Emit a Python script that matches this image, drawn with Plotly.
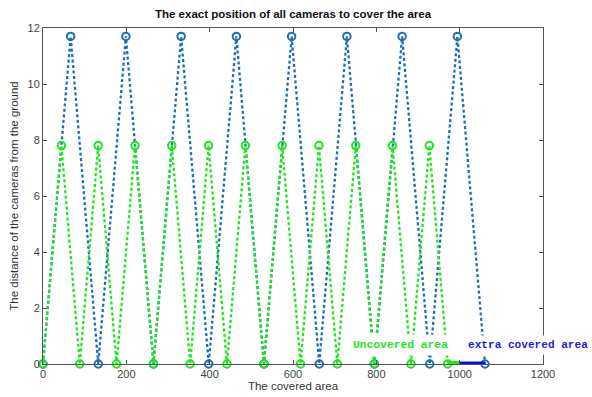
import plotly.graph_objects as go

# Data
blue_x = [0, 66.3, 132.6, 198.9, 265.2, 331.5, 397.8, 464.1, 530.4, 596.7,
          663.0, 729.3, 795.6, 861.9, 928.2, 994.5, 1060.8]
blue_y = [0, 11.7, 0, 11.7, 0, 11.7, 0, 11.7, 0, 11.7, 0, 11.7, 0, 11.7, 0, 11.7, 0]

green_x = [0, 44.15, 88.3, 132.45, 176.6, 220.75, 264.9, 309.05, 353.2, 397.35,
           441.5, 485.65, 529.8, 573.95, 618.1, 662.25, 706.4, 750.55, 794.7,
           838.85, 883.0, 927.15, 971.3]
green_y = [0, 7.8, 0, 7.8, 0, 7.8, 0, 7.8, 0, 7.8, 0, 7.8, 0, 7.8, 0, 7.8, 0,
           7.8, 0, 7.8, 0, 7.8, 0]

uncovered_x = [971.3, 1000]
uncovered_y = [0, 0]
extra_x = [1000, 1060.8]
extra_y = [0, 0]

x_ticks = [0, 200, 400, 600, 800, 1000, 1200]
y_ticks = [0, 2, 4, 6, 8, 10, 12]

title = "The exact position of all cameras to cover the area"
x_label = "The covered area"
y_label = "The distance of the cameras from the ground"
label_uncovered = "Uncovered area"
label_extra = "extra covered area"

BLUE = "#1a6fb8"
GREEN = "#1ee61e"
TXT_BLUE = "#1c1ce0"
MONO = "Liberation Mono, Courier New, monospace"
SANS = "Liberation Sans, Arial, sans-serif"

fig = go.Figure()
fig.add_trace(go.Scatter(
    x=blue_x, y=blue_y, mode="lines+markers",
    line=dict(color=BLUE, width=2.3, dash="3px,2.5px"),
    marker=dict(symbol="circle-open", size=7.5, color=BLUE, line=dict(width=2, color=BLUE)),
    showlegend=False, cliponaxis=False))
fig.add_trace(go.Scatter(
    x=green_x, y=green_y, mode="lines+markers",
    line=dict(color=GREEN, width=2.3, dash="3px,2.5px"),
    marker=dict(symbol="circle-open", size=7.5, color=GREEN, line=dict(width=2, color=GREEN)),
    showlegend=False, cliponaxis=False))
fig.add_trace(go.Scatter(
    x=uncovered_x, y=uncovered_y, mode="lines",
    line=dict(color=GREEN, width=6), showlegend=False, cliponaxis=False))
fig.add_trace(go.Scatter(
    x=extra_x, y=extra_y, mode="lines",
    line=dict(color="#0a0ae6", width=5), showlegend=False, cliponaxis=False))

fig.add_annotation(x=732, y=0.67, xref="x", yref="y", text=label_uncovered,
                   showarrow=False, xanchor="left", yanchor="middle",
                   font=dict(family=MONO, size=11.3, color=GREEN, weight="bold"),
                   bgcolor="white", borderpad=4)
fig.add_annotation(x=1.097, y=0.67, xref="paper", yref="y", text=label_extra,
                   showarrow=False, xanchor="right", yanchor="middle",
                   font=dict(family=MONO, size=11.1, color=TXT_BLUE, weight="bold"),
                   bgcolor="white", borderpad=3)

axis_common = dict(
    showgrid=False, zeroline=False, showline=True, linecolor="#555555", linewidth=1,
    mirror="allticks", ticks="inside", ticklen=4, tickcolor="#555555", automargin=False,
    tickfont=dict(family=SANS, size=11, color="#444444"),
)
fig.update_xaxes(range=[0, 1200], tickvals=x_ticks, **axis_common,
                 title=dict(text=x_label, standoff=1,
                            font=dict(family=SANS, size=11.5, color="#333333")))
fig.update_yaxes(range=[0, 12], tickvals=y_ticks, **axis_common,
                 title=dict(text=y_label, standoff=6,
                            font=dict(family=SANS, size=11.5, color="#333333")))

fig.update_layout(
    width=592, height=397,
    margin=dict(l=43, r=49, t=28, b=33, autoexpand=False),
    paper_bgcolor="white", plot_bgcolor="white",
    title=dict(text=title, x=0.495, xanchor="center", y=0.965, yanchor="middle",
               automargin=False,
               font=dict(family=SANS, size=11.5, color="#111111", weight="bold")),
)

fig.write_html("out.html", config={"displayModeBar": False},
               post_script="document.body.style.margin='0';document.body.style.overflow='hidden';")
